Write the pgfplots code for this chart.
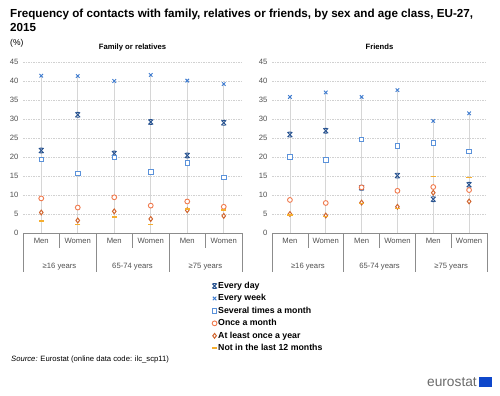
\documentclass[border=0pt]{standalone}
\usepackage{pgfplots}
\pgfplotsset{compat=1.18}
\usepackage{fontspec}
\setmainfont{Liberation Sans}

\definecolor{cday}{HTML}{24508F}
\definecolor{cweek}{HTML}{3E7BCF}
\definecolor{csev}{HTML}{5B92DA}
\definecolor{cmonth}{HTML}{F07A4E}
\definecolor{cyear}{HTML}{D0652F}
\definecolor{cnot}{HTML}{F5AE2F}
\definecolor{boxgray}{HTML}{8C8C8C}
\definecolor{tickgray}{HTML}{505050}
\definecolor{eublue}{HTML}{0E47CB}

\pgfdeclareplotmark{xstar}{%
  \pgfpathmoveto{\pgfqpoint{-\pgfplotmarksize}{-\pgfplotmarksize}}%
  \pgfpathlineto{\pgfqpoint{\pgfplotmarksize}{\pgfplotmarksize}}%
  \pgfpathmoveto{\pgfqpoint{-\pgfplotmarksize}{\pgfplotmarksize}}%
  \pgfpathlineto{\pgfqpoint{\pgfplotmarksize}{-\pgfplotmarksize}}%
  \pgfpathmoveto{\pgfqpoint{-0.6\pgfplotmarksize}{\pgfplotmarksize}}%
  \pgfpathlineto{\pgfqpoint{0.6\pgfplotmarksize}{\pgfplotmarksize}}%
  \pgfpathmoveto{\pgfqpoint{-0.6\pgfplotmarksize}{-\pgfplotmarksize}}%
  \pgfpathlineto{\pgfqpoint{0.6\pgfplotmarksize}{-\pgfplotmarksize}}%
  \pgfusepathqstroke}

\pgfplotsset{
  panel/.style={
    scale only axis, height=171bp, anchor=south west,
    xmin=-0.5, xmax=5.5, ymin=0, ymax=45,
    ytick={0,5,...,45},
    xtick={0,...,5},
    xticklabels={Men,Women,Men,Women,Men,Women},
    major tick length=0pt,
    axis line style={draw=none},
    ymajorgrids, grid style={color=black!18, dash pattern=on 1.5bp off 1bp, line width=0.5bp},
    tick label style={font=\fontsize{7.7}{9}\selectfont, text=tickgray},
    /pgf/number format/assume math mode=true,
    yticklabel style={xshift=-1bp},
    xticklabel style={yshift=-2bp},
    clip=false,
    title style={at={(0.5,1)}, anchor=base, yshift=7bp, font=\bfseries\fontsize{7.7}{9}\selectfont},
    legend image code/.code={\draw[##1] plot coordinates {(0bp,0bp)};},
  },
  sday/.style={only marks, mark=xstar, color=cday, mark size=2.4bp, line width=0.9bp},
  sweek/.style={only marks, mark=x, color=cweek, mark size=2.5bp, line width=0.9bp},
  ssev/.style={only marks, mark=square*, color=csev, mark options={fill=white}, mark size=2.2bp, line width=0.9bp},
  smonth/.style={only marks, mark=*, color=cmonth, mark options={fill=white}, mark size=2.4bp, line width=0.9bp},
  syear/.style={only marks, mark=diamond*, color=cyear, mark options={fill=white}, mark size=2.4bp, line width=1bp},
  snot/.style={only marks, mark=-, color=cnot, mark size=2.6bp, line width=1.6bp},
  stem/.style={ycomb, no marks, color=black!16, line width=0.6bp, forget plot},
}

\newcommand{\catbox}{%
  \draw[boxgray, line width=0.6bp] (axis cs:-0.5,0) -- (axis cs:5.5,0);
  \draw[boxgray, line width=0.6bp] (axis cs:-0.5,0) -- ([yshift=-39bp]axis cs:-0.5,0);
  \draw[boxgray, line width=0.6bp] (axis cs:1.5,0) -- ([yshift=-39bp]axis cs:1.5,0);
  \draw[boxgray, line width=0.6bp] (axis cs:3.5,0) -- ([yshift=-39bp]axis cs:3.5,0);
  \draw[boxgray, line width=0.6bp] (axis cs:5.5,0) -- ([yshift=-39bp]axis cs:5.5,0);
  \draw[boxgray, line width=0.6bp] (axis cs:0.5,0) -- ([yshift=-14.5bp]axis cs:0.5,0);
  \draw[boxgray, line width=0.6bp] (axis cs:2.5,0) -- ([yshift=-14.5bp]axis cs:2.5,0);
  \draw[boxgray, line width=0.6bp] (axis cs:4.5,0) -- ([yshift=-14.5bp]axis cs:4.5,0);
  \node[font=\fontsize{7.7}{9}\selectfont, text=tickgray] at ([yshift=-33.5bp]axis cs:0.5,0) {≥16 years};
  \node[font=\fontsize{7.7}{9}\selectfont, text=tickgray] at ([yshift=-33.5bp]axis cs:2.5,0) {65-74 years};
  \node[font=\fontsize{7.7}{9}\selectfont, text=tickgray] at ([yshift=-33.5bp]axis cs:4.5,0) {≥75 years};
}

\begin{document}
\begin{tikzpicture}[x=1bp,y=1bp]
\path[use as bounding box, fill=white] (0,0) rectangle (500,395);

% title
\node[anchor=base west, font=\bfseries\fontsize{11.7}{14.4}\selectfont, inner sep=0] at (10,395-17.3)
  {Frequency of contacts with family, relatives or friends, by sex and age class, EU-27,};
\node[anchor=base west, font=\bfseries\fontsize{11.7}{14.4}\selectfont, inner sep=0] at (10,395-31.7) {2015};
\node[anchor=west, font=\fontsize{8.5}{10}\selectfont, inner sep=0] at (10,395-43) {(\%)};

% left panel: Family or relatives
\begin{axis}[panel, at={(23bp,162bp)}, width=219bp,
  title={Family or relatives},
  legend style={at={(0.862,-0.28)}, anchor=north west, draw=none, fill=none,
    font=\bfseries\fontsize{8.8}{10}\selectfont, row sep=2.6bp, inner sep=0pt,
    nodes={inner sep=1bp}},
  legend cell align=left]
\addplot[stem] coordinates {(0,41.4) (1,41.3) (2,40.0) (3,41.6) (4,40.1) (5,39.2)};
\addplot[sday] coordinates {(0,21.7) (1,31.1) (2,20.9) (3,29.2) (4,20.4) (5,29.0)};
\addlegendentry{Every day}
\addplot[sweek] coordinates {(0,41.4) (1,41.3) (2,40.0) (3,41.6) (4,40.1) (5,39.2)};
\addlegendentry{Every week}
\addplot[ssev] coordinates {(0,19.3) (1,15.6) (2,19.9) (3,16.1) (4,18.4) (5,14.6)};
\addlegendentry{Several times a month}
\addplot[smonth] coordinates {(0,9.1) (1,6.7) (2,9.4) (3,7.2) (4,8.3) (5,6.9)};
\addlegendentry{Once a month}
\addplot[syear] coordinates {(0,5.4) (1,3.3) (2,5.7) (3,3.7) (4,6.0) (5,4.5)};
\addlegendentry{At least once a year}
\addplot[snot] coordinates {(0,3.2) (1,2.2) (2,4.2) (3,2.2) (4,6.3) (5,6.0)};
\addlegendentry{Not in the last 12 months}
\catbox
\end{axis}

% right panel: Friends
\begin{axis}[panel, at={(272bp,162bp)}, width=215bp, title={Friends}]
\addplot[stem] coordinates {(0,35.8) (1,37.0) (2,35.8) (3,37.6) (4,29.5) (5,31.5)};
\addplot[sday] coordinates {(0,25.9) (1,26.9) (2,11.9) (3,15.1) (4,8.9) (5,12.7)};
\addplot[sweek] coordinates {(0,35.8) (1,37.0) (2,35.8) (3,37.6) (4,29.5) (5,31.5)};
\addplot[ssev] coordinates {(0,20.0) (1,19.2) (2,24.6) (3,22.9) (4,23.7) (5,21.4)};
\addplot[smonth] coordinates {(0,8.7) (1,7.9) (2,12.0) (3,11.1) (4,12.1) (5,11.3)};
\addplot[syear] coordinates {(0,5.0) (1,4.6) (2,8.0) (3,6.9) (4,10.6) (5,8.3)};
\addplot[snot] coordinates {(0,4.7) (1,4.3) (2,7.8) (3,6.5) (4,14.9) (5,14.6)};
\catbox
\end{axis}

% source
\node[anchor=base west, font=\fontsize{7.7}{9}\selectfont, inner sep=0] at (11,395-361)
  {\textit{Source:} Eurostat (online data code: ilc\_scp11)};

% eurostat logo
\node[anchor=east, font=\fontsize{13.8}{15}\selectfont, text=black!58, inner sep=0] at (477,395-382) {eurostat};
\fill[eublue] (479,395-387) rectangle (492,395-377);
\end{tikzpicture}
\end{document}
